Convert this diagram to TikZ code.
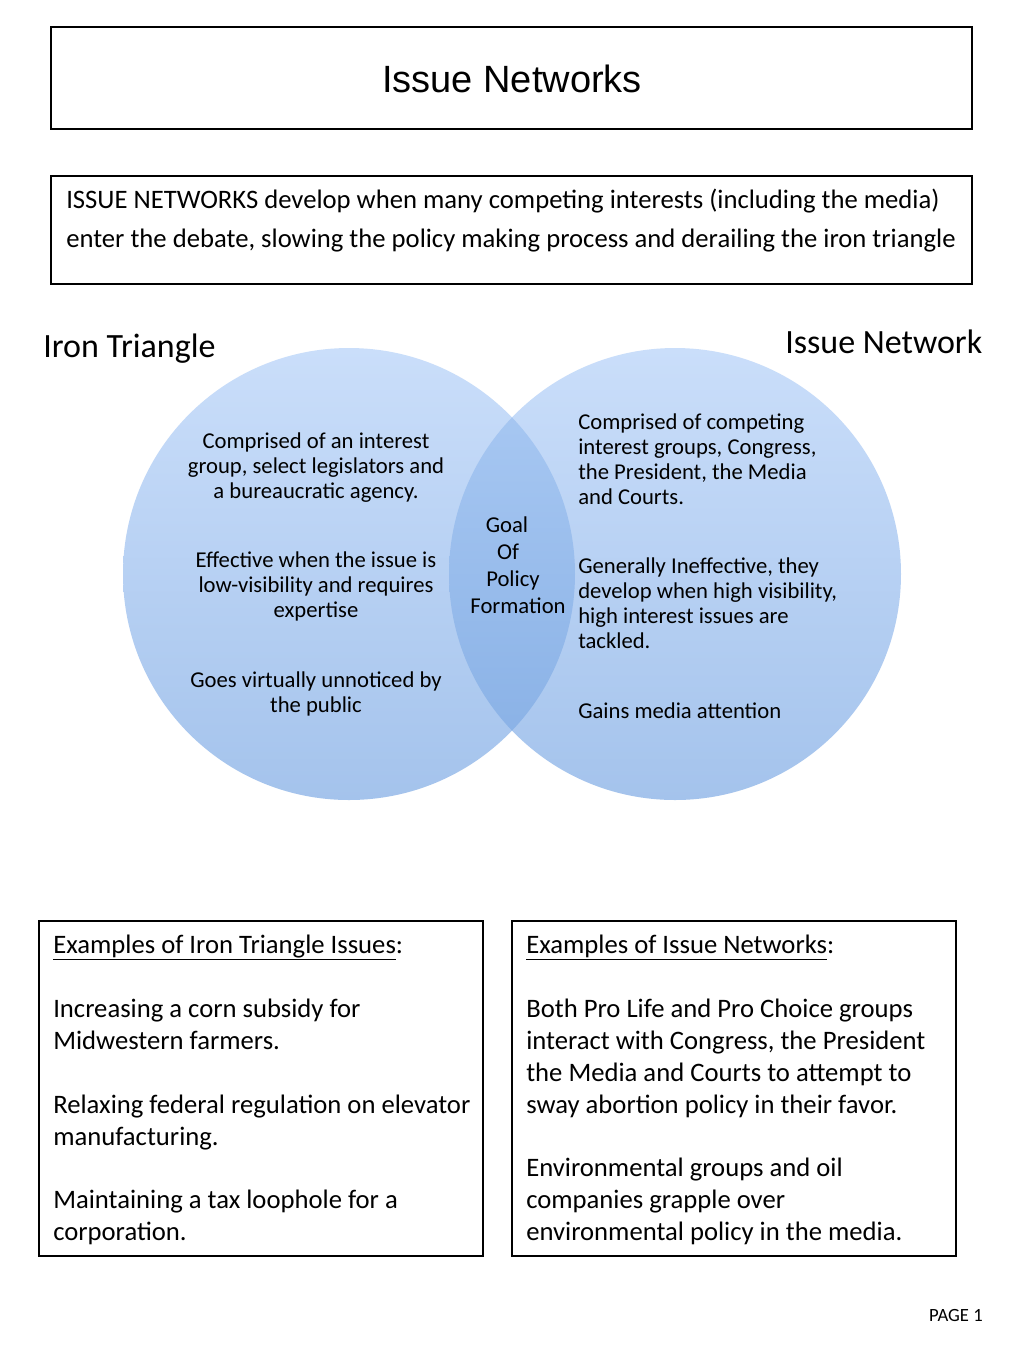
\documentclass[tikz,border=0pt]{standalone}
\usepackage{fontspec}
\setmainfont{Carlito}
\newfontfamily\arialfont{Liberation Sans}
\definecolor{circtop}{RGB}{202,222,250}
\definecolor{circbot}{RGB}{164,195,236}
\definecolor{lenstop}{RGB}{172,203,244}
\definecolor{lensbot}{RGB}{133,174,228}
\tikzset{
  box/.style={draw=black, line width=0.8pt},
  bodytext/.style={inner sep=0pt, font=\fontsize{20}{24}\selectfont, align=left, anchor=base west},
  circtext/.style={inner sep=0pt, font=\fontsize{17}{18.75}\selectfont},
  heading/.style={inner sep=0pt, anchor=base west, font=\fontsize{25.5}{30}\selectfont},
}
\begin{document}
\begin{tikzpicture}[x=0.75pt,y=-0.75pt]
\useasboundingbox (0,0) rectangle (1024,1365);
\fill[white] (0,0) rectangle (1024,1365);

% title box
\draw[box] (51,27) rectangle (972,129);
\node[inner sep=0pt, anchor=base, font=\arialfont\fontsize{28.5}{30}\selectfont] (title) at (512,92) {Issue Networks};

% description box (anchor base = last line baseline)
\draw[box] (51,176) rectangle (972,284);
\node[inner sep=0pt, anchor=base west, align=left, font=\fontsize{20}{29.25}\selectfont] (desc) at (66,247)
  {ISSUE NETWORKS develop when many competing interests (including the media)\\
   enter the debate, slowing the policy making process and derailing the iron triangle};

% circle headings
\node[heading] (ironlbl) at (43,357) {Iron Triangle};
\node[heading] (netlbl) at (785,353) {Issue Network};

% circles
\coordinate (cl) at (349,574);
\coordinate (cr) at (675,574);
\shade[top color=circtop, bottom color=circbot] (cl) circle[radius=226];
\shade[top color=circtop, bottom color=circbot] (cr) circle[radius=226];
\begin{scope}
  \clip (cl) circle[radius=226];
  \shade[top color=lenstop, bottom color=lensbot] (cr) circle[radius=226];
\end{scope}

% left circle text
\node[circtext, anchor=base, align=center] (l1) at (316,498.5)
  {Comprised of an interest\\group, select legislators and\\a bureaucratic agency.};
\node[circtext, anchor=base, align=center] (l2) at (316,617.5)
  {Effective when the issue is\\low-visibility and requires\\expertise};
\node[circtext, anchor=base, align=center] (l3) at (316,712.5)
  {Goes virtually unnoticed by\\the public};

% middle
\node[inner sep=0pt, anchor=base, align=center, font=\fontsize{17}{20.25}\selectfont] (goal) at (518,613.5)
  {Goal\rule{16.5pt}{0pt}\\Of\rule{15pt}{0pt}\\Policy\rule{7.5pt}{0pt}\\Formation};

% right circle text
\node[circtext, anchor=base west, align=left] (r1) at (578,504.5)
  {Comprised of competing\\interest groups, Congress,\\the President, the Media\\and Courts.};
\node[circtext, anchor=base west, align=left] (r2) at (578,648.5)
  {Generally Ineffective, they\\develop when high visibility,\\high interest issues are\\tackled.};
\node[circtext, anchor=base west, align=left] (r3) at (578,718.5)
  {Gains media attention};

% bottom left box
\draw[box] (39,921) rectangle (483,1256);
\node[bodytext] (bl0) at (53,953) {\underline{Examples of Iron Triangle Issues}:};
\node[bodytext] (bl1) at (53,1049) {Increasing a corn subsidy for\\Midwestern farmers.};
\node[bodytext] (bl2) at (53,1145) {Relaxing federal regulation on elevator\\manufacturing.};
\node[bodytext] (bl3) at (53,1240) {Maintaining a tax loophole for a\\corporation.};

% bottom right box
\draw[box] (512,921) rectangle (956,1256);
\node[bodytext] (br0) at (526,953) {\underline{Examples of Issue Networks}:};
\node[bodytext] (br1) at (526,1113) {Both Pro Life and Pro Choice groups\\interact with Congress, the President\\the Media and Courts to attempt to\\sway abortion policy in their favor.};
\node[bodytext] (br2) at (526,1240) {Environmental groups and oil\\companies grapple over\\environmental policy in the media.};

% page number
\node[inner sep=0pt, anchor=base east, font=\fontsize{14}{16}\selectfont] (page) at (983,1321) {PAGE 1};
\end{tikzpicture}
\end{document}
